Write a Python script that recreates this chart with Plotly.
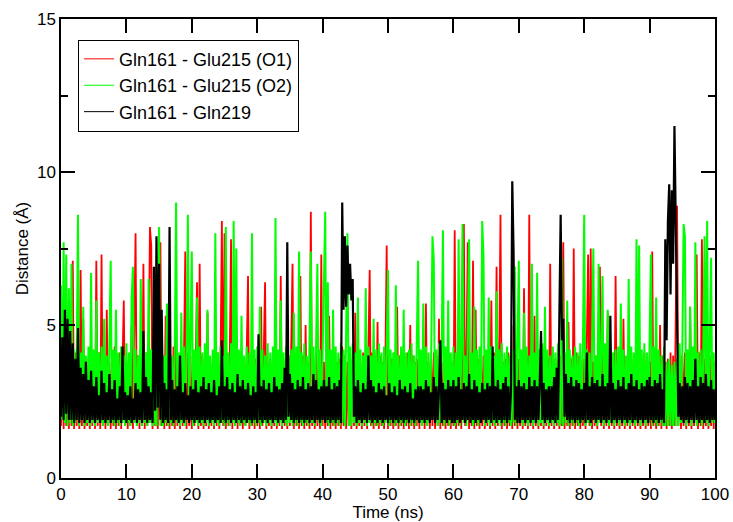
import plotly.graph_objects as go

# time axis (ns), 0.2 ns sampling
time_ns = [round(i * 0.2, 1) for i in range(501)]

gln161_glu215_o1 = [
    1.7, 4.0, 1.6, 5.1, 1.7, 3.8, 1.6, 3.9, 1.7, 7.1, 1.6, 4.1, 1.7, 4.0, 1.6, 6.8, 1.7, 5.2, 1.6, 3.8, 1.7, 3.9, 1.6, 4.3, 1.7,
    4.0, 1.6, 7.1, 1.7, 4.1, 1.6, 7.3, 1.7, 3.9, 1.6, 5.5, 1.7, 3.8, 1.6, 3.9, 1.7, 4.3, 1.6, 4.0, 1.7, 4.1, 1.6, 3.7, 5.8, 1.7,
    3.8, 1.6, 3.9, 1.7, 5.0, 1.6, 4.1, 8.0, 1.7, 4.0, 1.6, 3.8, 1.7, 7.0, 1.6, 4.1, 1.7, 3.9, 8.2, 7.6, 1.6, 4.0, 1.7, 3.8, 1.6,
    4.1, 7.7, 1.7, 4.0, 1.6, 5.3, 1.7, 3.8, 1.6, 3.9, 1.7, 4.3, 1.6, 5.1, 1.7, 4.0, 1.6, 3.8, 1.7, 3.9, 7.4, 1.6, 4.1, 1.7, 4.0,
    1.6, 3.8, 1.7, 3.9, 6.4, 1.6, 7.0, 1.7, 4.0, 1.6, 4.1, 1.7, 5.4, 1.6, 3.9, 1.7, 3.8, 1.6, 4.0, 1.7, 4.1, 1.6, 3.9, 8.4, 1.7,
    8.0, 1.6, 3.8, 1.7, 3.9, 7.8, 1.6, 4.1, 1.7, 5.2, 1.6, 4.0, 1.7, 3.8, 1.6, 3.9, 1.7, 4.1, 6.6, 1.6, 4.0, 1.7, 3.8, 1.6, 3.9,
    1.7, 4.1, 1.6, 5.6, 1.7, 4.0, 6.4, 1.6, 3.8, 1.7, 3.9, 1.6, 4.1, 1.7, 4.0, 1.6, 3.8, 1.7, 6.6, 1.6, 3.9, 1.7, 4.1, 1.6, 4.0,
    1.7, 3.8, 7.0, 1.6, 3.9, 1.7, 4.1, 1.6, 6.6, 1.7, 4.0, 1.6, 5.0, 1.7, 3.8, 1.6, 8.7, 1.7, 3.9, 1.6, 4.1, 1.7, 4.0, 1.6, 7.3,
    1.7, 3.8, 1.6, 3.9, 1.7, 5.3, 1.6, 4.1, 1.7, 4.0, 1.6, 3.8, 1.7, 3.9, 1.6, 4.3, 1.7, 4.0, 1.6, 3.8, 1.7, 4.1, 1.6, 3.9, 1.7,
    5.4, 1.6, 4.0, 1.7, 3.8, 1.6, 4.1, 1.7, 3.9, 1.6, 4.0, 6.8, 1.7, 4.1, 1.6, 3.9, 1.7, 5.1, 1.6, 4.0, 1.7, 3.8, 1.6, 3.9, 7.6,
    1.6, 3.8, 1.7, 3.9, 1.6, 4.1, 1.7, 5.6, 1.6, 4.0, 1.7, 3.8, 1.6, 3.9, 1.7, 4.1, 1.6, 5.0, 1.7, 4.0, 1.6, 3.8, 1.7, 3.9, 1.6,
    4.1, 1.7, 4.0, 1.6, 5.7, 1.7, 3.8, 1.6, 3.9, 1.7, 4.1, 1.6, 4.0, 1.7, 5.2, 1.6, 3.8, 1.7, 3.9, 1.6, 4.1, 1.7, 4.0, 1.6, 3.8,
    1.7, 8.1, 1.6, 3.8, 1.7, 3.9, 1.6, 4.1, 8.3, 1.7, 4.0, 7.7, 1.6, 3.8, 1.7, 7.1, 1.6, 5.5, 1.7, 3.9, 1.6, 4.1, 1.7, 4.0, 1.6,
    3.8, 1.7, 3.9, 1.6, 5.8, 1.7, 4.1, 1.6, 6.9, 1.7, 4.0, 8.6, 1.6, 3.8, 1.7, 3.9, 1.6, 4.1, 1.7, 4.0, 1.6, 5.0, 1.7, 3.8, 1.6,
    3.9, 1.7, 4.1, 1.6, 6.2, 1.7, 4.0, 1.6, 8.6, 1.7, 3.8, 1.6, 5.3, 1.7, 3.9, 1.6, 4.1, 1.7, 4.0, 1.6, 3.8, 1.7, 3.9, 1.6, 7.0,
    1.7, 3.8, 1.6, 3.9, 1.7, 4.1, 1.6, 4.0, 1.7, 7.7, 1.6, 3.8, 1.7, 5.1, 1.6, 3.9, 1.7, 7.5, 1.6, 4.1, 1.7, 4.0, 1.6, 3.8, 1.7,
    3.9, 1.6, 4.1, 7.3, 1.7, 7.5, 1.6, 3.8, 1.7, 4.0, 1.6, 3.9, 6.9, 1.7, 4.1, 1.6, 4.0, 1.7, 5.4, 1.6, 3.8, 1.7, 3.9, 1.6, 6.6,
    1.7, 4.0, 1.6, 4.1, 1.7, 5.2, 1.6, 3.8, 1.7, 3.9, 1.6, 4.1, 1.7, 4.0, 1.6, 5.7, 1.7, 3.8, 1.6, 3.9, 1.7, 4.1, 1.6, 4.0, 1.7,
    3.8, 1.6, 7.4, 1.7, 3.9, 1.6, 4.1, 1.7, 5.0, 1.6, 4.0, 1.7, 3.8, 1.6, 3.9, 1.7, 4.1, 1.6, 4.0, 1.7, 6.5, 8.9, 1.7, 3.8, 1.6,
    4.0, 1.7, 4.1, 1.6, 3.9, 1.7, 5.6, 1.6, 3.8, 1.7, 4.0, 7.3, 1.6, 4.1, 1.7, 7.8, 1.6, 3.9, 1.7, 3.8, 1.6, 4.0, 1.7, 4.1, 1.6,
    3.8,
]

gln161_glu215_o2 = [
    6.3, 1.9, 7.7, 1.8, 7.3, 1.7, 6.2, 1.8, 7.0, 1.7, 4.2, 1.8, 4.0, 8.6, 1.7, 4.1, 1.9, 5.6, 1.7, 4.0, 1.8, 4.3, 1.7, 6.7, 1.8,
    4.2, 1.7, 5.8, 1.8, 4.1, 1.9, 4.3, 1.7, 5.2, 1.8, 4.0, 1.7, 4.4, 7.1, 1.8, 4.2, 1.7, 5.5, 1.8, 4.1, 1.7, 4.3, 1.8, 4.0, 1.7,
    4.4, 1.8, 4.1, 1.7, 5.9, 6.9, 1.8, 4.2, 1.7, 4.0, 1.8, 6.5, 1.7, 4.3, 1.8, 4.1, 1.7, 6.5, 1.8, 4.2, 1.7, 4.0, 1.8, 1.7, 4.5,
    8.2, 1.7, 4.4, 1.7, 4.0, 1.8, 5.7, 1.7, 4.2, 1.8, 4.0, 1.7, 4.3, 9.0, 1.8, 4.1, 1.7, 5.4, 1.8, 4.3, 1.7, 4.0, 8.6, 1.8, 4.2,
    7.4, 1.7, 4.2, 1.8, 5.9, 1.7, 4.3, 1.8, 4.1, 1.7, 4.4, 1.8, 5.5, 1.7, 4.0, 1.8, 4.2, 1.7, 8.0, 1.8, 4.1, 1.7, 4.3, 1.8, 4.0,
    1.7, 8.2, 1.8, 4.1, 1.7, 4.4, 1.8, 8.4, 1.7, 7.5, 1.8, 4.2, 1.7, 5.3, 1.8, 4.0, 1.7, 4.3, 1.8, 4.1, 1.7, 8.0, 1.8, 4.2, 1.7,
    4.3, 1.8, 5.6, 1.7, 4.2, 1.8, 4.0, 1.7, 4.4, 1.8, 4.1, 1.7, 4.3, 1.8, 8.5, 1.7, 4.2, 1.8, 5.8, 1.7, 4.1, 1.8, 4.3, 1.7, 4.0,
    1.8, 4.2, 1.7, 5.4, 1.8, 4.3, 1.7, 7.4, 1.8, 4.1, 1.7, 4.4, 1.8, 4.0, 1.7, 4.2, 7.4, 1.8, 4.3, 1.7, 4.1, 7.0, 1.8, 4.2, 1.7,
    4.3, 7.1, 8.7, 1.8, 6.4, 1.7, 4.2, 1.8, 5.5, 1.7, 4.3, 1.8, 4.1, 1.7, 4.4, 1.8, 4.2, 1.7, 4.5, 8.0, 1.7, 4.3, 1.7, 4.4, 1.8,
    4.1, 1.7, 5.9, 1.8, 4.2, 1.7, 4.0, 1.8, 6.2, 1.7, 4.3, 1.8, 4.0, 1.7, 5.2, 1.8, 4.2, 1.7, 4.4, 1.8, 4.1, 1.7, 4.3, 1.8, 4.0,
    6.8, 1.7, 4.2, 1.8, 4.1, 1.7, 6.3, 1.8, 4.0, 1.7, 4.3, 1.8, 5.5, 1.7, 4.1, 1.8, 4.2, 1.7, 4.4, 1.8, 4.0, 1.7, 4.3, 7.1, 1.8,
    4.2, 1.7, 5.7, 1.8, 4.3, 1.7, 4.1, 1.8, 4.0, 7.9, 7.1, 1.8, 4.2, 1.7, 4.4, 1.8, 4.0, 8.1, 1.7, 4.3, 1.8, 5.8, 1.7, 4.1, 1.8,
    4.3, 1.7, 4.1, 1.8, 7.8, 1.7, 4.2, 8.3, 1.8, 4.0, 1.7, 4.4, 7.8, 1.8, 4.1, 1.7, 5.6, 1.8, 4.2, 1.7, 4.3, 1.8, 8.4, 7.3, 1.7,
    4.2, 1.8, 5.9, 1.7, 4.3, 1.8, 4.0, 1.7, 6.1, 1.8, 4.2, 1.7, 4.4, 1.8, 4.1, 1.7, 4.3, 1.8, 4.0, 1.7, 4.2, 1.8, 6.9, 1.7, 4.3,
    7.1, 1.8, 4.2, 1.7, 5.4, 1.8, 4.3, 1.7, 4.0, 1.8, 7.0, 1.7, 4.1, 1.8, 6.7, 1.7, 4.2, 1.8, 4.4, 1.7, 5.6, 1.8, 4.2, 1.7, 4.0,
    1.8, 4.3, 1.7, 4.1, 1.8, 4.4, 1.7, 1.8, 7.2, 1.7, 4.1, 1.8, 5.8, 1.7, 4.2, 1.8, 4.0, 1.7, 4.3, 1.8, 4.1, 1.7, 4.4, 1.8, 4.2,
    8.6, 1.7, 4.2, 1.8, 4.1, 1.7, 4.3, 7.5, 1.8, 4.0, 1.7, 7.0, 1.8, 4.2, 6.6, 1.7, 4.4, 1.8, 5.5, 1.7, 4.3, 1.8, 4.1, 1.7, 4.2,
    1.8, 4.3, 1.7, 5.7, 1.8, 4.2, 1.7, 4.0, 1.8, 6.5, 1.7, 4.3, 1.8, 4.1, 1.7, 7.8, 1.8, 7.6, 1.7, 4.2, 1.8, 4.4, 1.7, 4.1, 1.8,
    4.2, 7.3, 1.7, 4.3, 1.8, 5.9, 1.7, 4.2, 1.8, 4.0, 1.7, 4.3, 1.7, 3.8, 1.7, 3.9, 1.7, 3.7, 1.7, 3.8, 1.7, 3.9, 1.7, 4.4, 1.8,
    4.1, 8.3, 7.9, 1.7, 4.2, 1.8, 5.6, 1.7, 4.3, 1.8, 7.7, 1.7, 4.1, 1.8, 4.2, 1.7, 4.0, 7.9, 1.8, 8.4, 1.7, 4.3, 7.2, 1.8, 4.1,
    1.8,
]

gln161_gln219 = [
    2.0, 4.6, 1.9, 5.5, 2.1, 5.2, 1.9, 4.8, 1.9, 4.4, 1.8, 3.9, 1.9, 4.9, 1.8, 3.6, 1.9, 3.4, 1.8, 3.8, 1.9, 3.2, 1.8, 3.5, 1.9,
    3.0, 1.8, 3.3, 1.9, 2.7, 1.8, 3.5, 1.9, 3.1, 1.8, 2.8, 1.9, 3.4, 1.8, 2.9, 1.9, 3.2, 1.8, 2.6, 1.9, 3.0, 1.8, 4.3, 1.9, 2.8,
    1.8, 2.7, 1.9, 3.0, 1.8, 2.6, 1.9, 3.1, 1.8, 2.9, 1.9, 2.8, 1.8, 4.8, 1.9, 3.3, 1.8, 3.0, 1.9, 2.8, 1.8, 6.9, 2.2, 7.9, 2.3,
    7.0, 1.9, 5.5, 1.8, 3.1, 1.9, 2.9, 1.8, 8.2, 1.9, 3.2, 1.8, 2.9, 1.9, 3.0, 1.8, 4.0, 1.9, 2.8, 1.8, 3.1, 1.9, 2.7, 1.8, 3.0,
    1.9, 2.9, 1.8, 3.2, 1.9, 2.8, 1.8, 3.0, 1.9, 3.3, 1.8, 2.9, 1.9, 3.1, 1.8, 2.8, 1.9, 3.2, 1.8, 2.7, 1.9, 3.0, 1.8, 4.5, 1.9,
    3.0, 1.8, 3.3, 1.9, 2.9, 1.8, 3.1, 1.9, 2.8, 1.8, 3.4, 1.9, 3.0, 1.8, 3.2, 1.9, 2.9, 1.8, 3.1, 1.9, 2.7, 1.8, 3.0, 1.9, 2.8,
    1.8, 4.7, 1.9, 3.0, 1.8, 3.2, 1.9, 2.9, 1.8, 3.1, 1.9, 2.8, 1.8, 3.3, 1.9, 3.0, 1.8, 2.9, 1.9, 3.1, 1.8, 3.6, 1.9, 7.7, 2.0,
    3.4, 1.9, 3.1, 1.8, 2.9, 1.9, 3.2, 1.8, 3.0, 1.9, 3.3, 1.8, 2.9, 1.9, 3.1, 1.8, 3.0, 1.9, 3.4, 1.8, 3.2, 1.9, 2.9, 1.8, 3.0,
    1.9, 3.2, 1.8, 3.0, 1.9, 3.3, 1.8, 2.9, 1.9, 3.1, 1.8, 3.0, 1.9, 3.2, 1.8, 9.0, 5.5, 7.9, 5.6, 7.6, 6.0, 7.0, 5.8, 6.5, 2.0,
    3.0, 1.8, 3.2, 1.9, 2.8, 1.8, 3.1, 1.9, 2.9, 1.8, 4.0, 1.9, 3.2, 1.8, 3.0, 1.9, 2.8, 1.8, 3.1, 1.9, 2.9, 1.8, 3.0, 1.9, 2.7,
    1.8, 3.1, 1.9, 2.8, 1.8, 3.0, 1.9, 2.7, 1.8, 3.2, 1.9, 2.9, 1.8, 3.0, 1.9, 2.8, 1.8, 3.1, 1.9, 2.6, 1.8, 2.9, 1.9, 3.0, 1.8,
    3.0, 1.9, 2.9, 1.8, 3.2, 1.9, 3.0, 1.8, 2.8, 1.9, 3.3, 1.8, 3.0, 1.9, 2.9, 4.5, 1.8, 3.1, 1.9, 2.9, 1.8, 3.2, 1.9, 3.0, 1.8,
    3.2, 1.8, 3.0, 1.9, 3.3, 1.8, 2.9, 1.9, 3.1, 1.8, 3.0, 1.9, 3.4, 1.8, 2.9, 1.9, 3.2, 1.8, 3.0, 1.9, 2.8, 1.8, 3.1, 1.9, 2.9,
    1.8, 3.1, 1.9, 3.0, 1.8, 4.3, 1.9, 3.0, 1.8, 3.2, 1.9, 2.9, 1.8, 3.1, 1.9, 3.3, 1.8, 3.0, 1.9, 2.8, 9.7, 7.4, 1.9, 3.0, 1.8,
    3.2, 1.8, 3.0, 1.9, 3.1, 1.8, 2.9, 1.9, 3.3, 1.8, 3.0, 1.9, 3.2, 1.8, 3.0, 1.9, 3.1, 4.8, 1.9, 3.1, 1.8, 2.9, 1.9, 3.0, 1.8,
    3.0, 1.9, 3.3, 1.8, 3.6, 1.9, 5.0, 8.6, 4.5, 5.2, 2.0, 3.4, 1.9, 3.1, 1.8, 3.3, 1.9, 3.0, 1.8, 3.2, 1.9, 3.1, 1.8, 2.9, 1.9,
    3.1, 1.8, 4.1, 1.9, 3.0, 1.8, 3.3, 1.9, 3.1, 1.8, 3.2, 1.9, 3.0, 1.8, 3.4, 1.9, 3.0, 1.8, 3.1, 1.9, 5.3, 1.8, 3.1, 1.9, 2.9,
    1.8, 3.2, 1.9, 3.0, 1.8, 3.3, 1.9, 2.9, 1.8, 3.1, 1.9, 3.4, 1.8, 3.0, 1.9, 3.2, 1.8, 2.9, 1.9, 3.1, 1.8, 3.0, 1.9, 3.2, 1.8,
    3.3, 1.9, 3.0, 1.8, 3.2, 1.9, 3.1, 1.8, 3.4, 1.9, 2.9, 1.8, 7.8, 4.5, 8.4, 9.6, 6.0, 9.4, 7.0, 11.5, 8.5, 5.5, 2.0, 3.1, 1.9,
    3.0, 1.8, 3.3, 1.9, 3.1, 1.8, 3.0, 1.9, 3.2, 1.8, 3.9, 1.9, 3.0, 1.8, 3.3, 1.9, 3.1, 1.8, 3.4, 1.9, 3.0, 1.8, 3.2, 1.9, 2.9,
    1.9,
]

series_names = ["Gln161 - Glu215 (O1)", "Gln161 - Glu215 (O2)", "Gln161 - Gln219"]
series_values = [gln161_glu215_o1, gln161_glu215_o2, gln161_gln219]
series_colors = ["#ff0000", "#00ff00", "#000000"]
series_widths = [1.8, 2.0, 2.2]

x_ticks = [0, 10, 20, 30, 40, 50, 60, 70, 80, 90, 100]
y_ticks = [0, 5, 10, 15]

FONT = "Liberation Sans, Arial, Helvetica, sans-serif"

fig = go.Figure()
for name, vals, col, w in zip(series_names, series_values, series_colors, series_widths):
    fig.add_trace(go.Scatter(
        x=time_ns, y=vals, mode="lines", name=name,
        line=dict(color=col, width=w), showlegend=False, legendgroup=name,
    ))
# legend entries with thin sample lines (no data drawn)
for name, col in zip(series_names, series_colors):
    fig.add_trace(go.Scatter(
        x=[None], y=[None], mode="lines", name=name,
        line=dict(color=col, width=1), showlegend=True, legendgroup=name,
    ))

axis_common = dict(
    showline=True, linecolor="black", linewidth=1.5, mirror="allticks",
    ticks="inside", ticklen=14, tickwidth=1.5, tickcolor="black",
    showgrid=False, zeroline=False, automargin=False,
    tickfont=dict(family=FONT, size=17, color="black"),
)

fig.update_xaxes(
    range=[0, 100], tickvals=x_ticks, ticktext=[str(v) for v in x_ticks],
    title=dict(text="Time (ns)", font=dict(family=FONT, size=17, color="black")),
    **axis_common,
)
fig.update_yaxes(
    range=[0, 15], tickvals=y_ticks, ticktext=[str(v) for v in y_ticks],
    minor=dict(dtick=2.5, tick0=0, ticks="inside", ticklen=7, tickwidth=1.5, tickcolor="black"),
    title=dict(text="Distance (Å)", font=dict(family=FONT, size=17, color="black"), standoff=4),
    **axis_common,
)

fig.update_layout(
    width=733, height=522,
    margin=dict(l=61, r=18, t=19, b=44),
    paper_bgcolor="white", plot_bgcolor="white",
    font=dict(family=FONT, size=17, color="black"),
    legend=dict(
        x=0.026, y=0.955, xanchor="left", yanchor="top",
        bgcolor="white", bordercolor="black", borderwidth=1,
        font=dict(family=FONT, size=18, color="black"),
        tracegroupgap=0, itemwidth=30,
    ),
    showlegend=True,
)

fig.write_html("out.html", config={"displayModeBar": False},
               post_script="document.body.style.margin='0';")
